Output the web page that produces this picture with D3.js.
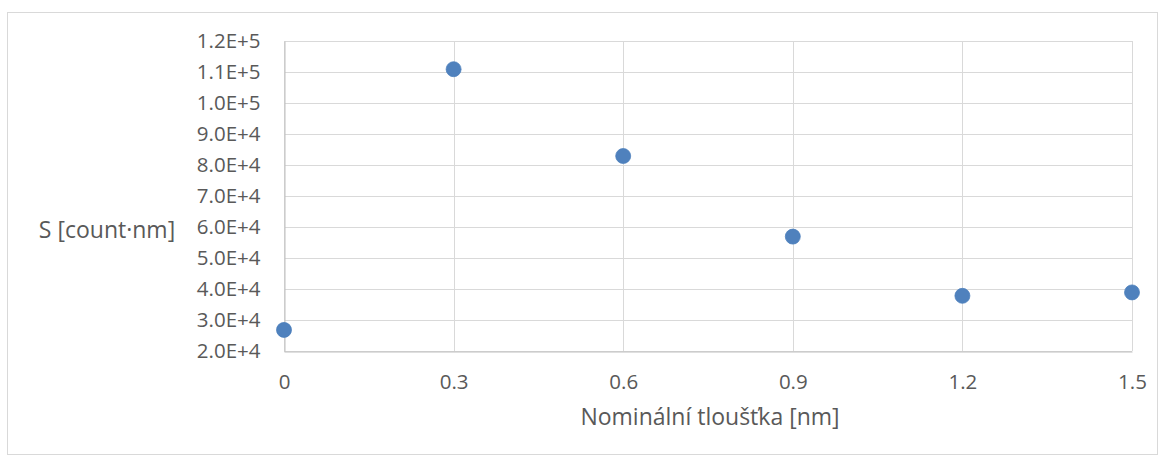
<!DOCTYPE html>
<html>
<head>
<meta charset="utf-8">
<script src="https://cdn.jsdelivr.net/npm/d3@7"></script>
<style>
  body { margin: 0; background: #fff; }
  text { font-family: "Open Sans", sans-serif; fill: #595959; }
</style>
</head>
<body>
<div id="chart"></div>
<script>
// data
const thickness = [0, 0.3, 0.6, 0.9, 1.2, 1.5];
const signal = [26800, 110900, 82900, 56900, 37800, 38900];
const xTicks = [0, 0.3, 0.6, 0.9, 1.2, 1.5];
const yTicks = [20000, 30000, 40000, 50000, 60000, 70000, 80000, 90000, 100000, 110000, 120000];

const width = 1165, height = 462;
const margin = {top: 41, right: 33, bottom: 111, left: 284};

const svg = d3.select("#chart").append("svg")
    .attr("width", width)
    .attr("height", height);

// outer chart border
svg.append("rect")
    .attr("x", 7.5).attr("y", 12.5)
    .attr("width", width - 15).attr("height", height - 20)
    .attr("fill", "none")
    .attr("stroke", "#d9d9d9");

const x = d3.scaleLinear().domain([0, 1.5]).range([margin.left, width - margin.right]);
const y = d3.scaleLinear().domain([20000, 120000]).range([height - margin.bottom, margin.top]);

// gridlines
svg.append("g")
    .selectAll("line")
    .data(yTicks)
    .join("line")
    .attr("x1", x(0)).attr("x2", x(1.5))
    .attr("y1", d => Math.round(y(d)) + 0.5).attr("y2", d => Math.round(y(d)) + 0.5)
    .attr("stroke", "#d9d9d9");

svg.append("g")
    .selectAll("line")
    .data(xTicks)
    .join("line")
    .attr("x1", d => Math.round(x(d)) + 0.5).attr("x2", d => Math.round(x(d)) + 0.5)
    .attr("y1", y(120000)).attr("y2", y(20000))
    .attr("stroke", "#d9d9d9");

// axes
const fmt = d => d3.format(".1e")(d).replace("e", "E");

const yAxis = svg.append("g")
    .attr("transform", `translate(${Math.round(x(0)) + 0.5},0)`)
    .call(d3.axisLeft(y).tickValues(yTicks).tickSize(0).tickPadding(24).tickFormat(fmt));
yAxis.select(".domain").attr("stroke", "#bfbfbf");

const xAxis = svg.append("g")
    .attr("transform", `translate(0,${Math.round(y(20000)) + 0.5})`)
    .call(d3.axisBottom(x).tickValues(xTicks).tickSize(0).tickPadding(23).tickFormat(d3.format("")));
xAxis.select(".domain").attr("stroke", "#bfbfbf");

svg.selectAll(".tick text")
    .style("font-family", "'Open Sans', sans-serif")
    .style("font-size", "20.5px")
    .attr("fill", "#595959");

// axis titles
svg.append("text")
    .attr("x", 710)
    .attr("y", 425)
    .attr("text-anchor", "middle")
    .style("font-size", "23px")
    .text("Nominální tloušťka [nm]");

svg.append("text")
    .attr("x", 107)
    .attr("y", 238)
    .attr("text-anchor", "middle")
    .style("font-size", "23px")
    .text("S [count·nm]");

// points
svg.append("g")
    .selectAll("circle")
    .data(thickness)
    .join("circle")
    .attr("cx", d => x(d))
    .attr("cy", (d, i) => y(signal[i]))
    .attr("r", 7.5)
    .attr("fill", "#4f81bd")
    .attr("stroke", "#4a7ebb")
    .attr("stroke-width", 0.75);
</script>
</body>
</html>
